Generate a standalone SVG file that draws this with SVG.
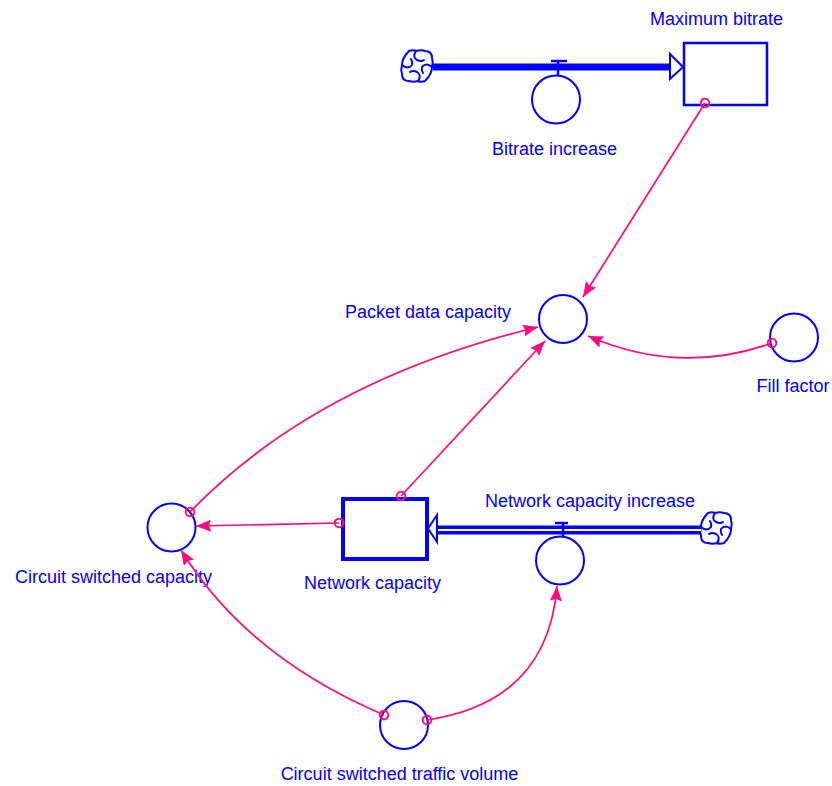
<svg xmlns="http://www.w3.org/2000/svg" width="832" height="786" viewBox="0 0 832 786">
  <style>
    .lbl { font-family: "Liberation Sans", Arial, sans-serif; font-size: 18px; fill: #0000ff; text-anchor: middle; }
    .aux { fill: #ffffff; stroke: #0000ff; stroke-width: 2; }
    .stock { fill: #ffffff; stroke: #0000ff; }
    .link { fill: none; stroke: #ff0a80; stroke-width: 1.7; marker-start: url(#tail); marker-end: url(#head); }
    .cloud { fill: #ffffff; stroke: #0000ff; stroke-width: 2; }
  </style>
  <defs>
    <marker id="head" viewBox="0 0 15 12" refX="15" refY="6" markerWidth="15" markerHeight="12" markerUnits="userSpaceOnUse" orient="auto">
      <path d="M0,0 L15,6 L0,12 L2,6 Z" fill="#ff0a80"/>
    </marker>
    <marker id="tail" viewBox="-6 -6 12 12" refX="0" refY="0" markerWidth="12" markerHeight="12" markerUnits="userSpaceOnUse" orient="auto">
      <circle r="4.3" fill="none" stroke="#ff0a80" stroke-width="2"/>
    </marker>
    <!-- cloud: scalloped rounded outline with a four-way pinwheel swirl -->
    <symbol id="cloudSym" viewBox="-17 -17 34 34" overflow="visible">
      <path class="cloud" d="M-1,-15 Q4,-16.5 8,-15 Q15,-15 15,-8 Q16.5,-4 15,1 Q15,8 8,15 Q4,16.5 1,15 Q-4,16.5 -8,15 Q-15,15 -15,8 Q-16.5,4 -15,-1 Q-15,-8 -8,-15 Q-4,-16.5 -1,-15 Z"/>
      <g fill="none" stroke="#0000ff" stroke-width="2" stroke-linecap="round">
        <path d="M-1,-15 Q-5,-9 0,-6 Q4,-4 7,-6"/>
        <path d="M15,1 Q9,-4 5,1 Q4,4 6,7"/>
        <path d="M1,15 Q5,9 0,6 Q-4,4 -7,6"/>
        <path d="M-15,-1 Q-9,4 -5,-1 Q-4,-4 -6,-7"/>
      </g>
    </symbol>
  </defs>

  <!-- Bitrate flow: source cloud, filled pipe, valve -->
  <g id="bitrate-flow">
    <use href="#cloudSym" x="400" y="49" width="34" height="34"/>
    <line x1="433" y1="67" x2="671" y2="67" stroke="#0000ff" stroke-width="7"/>
    <polygon points="670,54 683,67 670,79" fill="#ffffff" stroke="#0000ff" stroke-width="2"/>
    <line x1="551" y1="61" x2="567" y2="61" stroke="#0000ff" stroke-width="2.5"/>
    <line x1="558" y1="61" x2="558" y2="75" stroke="#0000ff" stroke-width="2.5"/>
  </g>
  <g id="bitrate-increase">
    <circle class="aux" cx="556" cy="99.5" r="24"/>
    <text class="lbl" x="554.5" y="155">Bitrate increase</text>
  </g>

  <g id="maximum-bitrate">
    <rect class="stock" x="684" y="43" width="83" height="62" stroke-width="2.5"/>
    <text class="lbl" x="716.5" y="25">Maximum bitrate</text>
  </g>

  <g id="packet-data-capacity">
    <circle class="aux" cx="563" cy="319" r="24"/>
    <text class="lbl" x="428" y="318">Packet data capacity</text>
  </g>

  <g id="fill-factor">
    <circle class="aux" cx="794" cy="337.5" r="24"/>
    <text class="lbl" x="793" y="392">Fill factor</text>
  </g>

  <!-- Network capacity flow: double-line pipe from cloud into stock -->
  <g id="network-flow">
    <use href="#cloudSym" x="699" y="511" width="34" height="34"/>
    <line x1="436" y1="530" x2="701" y2="530" stroke="#0000ff" stroke-width="9"/>
    <line x1="436" y1="530" x2="701" y2="530" stroke="#ffffff" stroke-width="2"/>
    <polygon points="437,515 428,528.5 437,542" fill="#ffffff" stroke="#0000ff" stroke-width="2"/>
    <line x1="555" y1="523" x2="568" y2="523" stroke="#0000ff" stroke-width="2.5"/>
    <line x1="563" y1="523" x2="563" y2="537" stroke="#0000ff" stroke-width="2.5"/>
  </g>
  <g id="network-capacity-increase">
    <circle class="aux" cx="560" cy="560.5" r="24"/>
    <text class="lbl" x="590" y="507">Network capacity increase</text>
  </g>

  <g id="network-capacity">
    <rect class="stock" x="343" y="499" width="84" height="60" stroke-width="4"/>
    <text class="lbl" x="372.5" y="589">Network capacity</text>
  </g>

  <g id="circuit-switched-capacity">
    <circle class="aux" cx="171.5" cy="527.5" r="24"/>
    <text class="lbl" x="113.5" y="583">Circuit switched capacity</text>
  </g>

  <g id="circuit-switched-traffic-volume">
    <circle class="aux" cx="404" cy="725" r="24"/>
    <text class="lbl" x="399.5" y="780">Circuit switched traffic volume</text>
  </g>

  <!-- Information links -->
  <g id="connectors">
    <path class="link" d="M705,103 L583,297"/>
    <path class="link" d="M772,343 Q680,376 588,336"/>
    <path class="link" d="M190,512 Q316,381 538,327"/>
    <path class="link" d="M401,496 L545,341"/>
    <path class="link" d="M339,523 L196,526"/>
    <path class="link" d="M384,715 Q247,657 181,550"/>
    <path class="link" d="M427,720 Q548,702 557,586"/>
  </g>
</svg>
